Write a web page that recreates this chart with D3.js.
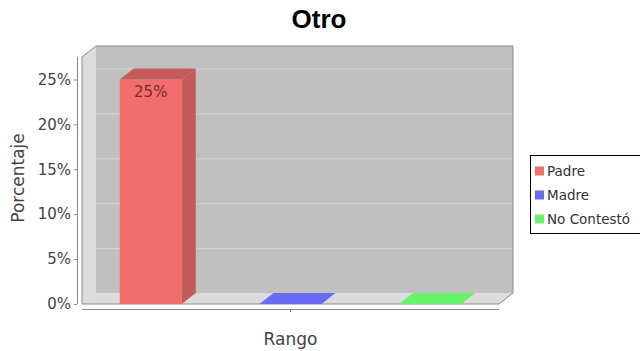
<!DOCTYPE html>
<html>
<head>
<meta charset="utf-8">
<script src="https://cdn.jsdelivr.net/npm/d3@7"></script>
<style>
  html, body { margin: 0; padding: 0; background: #fff; }
  svg { display: block; }
</style>
</head>
<body>
<svg id="chart" width="640" height="351"></svg>
<script>
// ---- data ----
const title = "Otro";
const category = "Rango";
const seriesNames = ["Padre", "Madre", "No Contestó"];
const seriesValues = [25, 0, 0];
const seriesColors = ["#f26e6e", "#6b6bf2", "#6bf26b"];
const seriesDark = ["#c65b5b", "#5656c4", "#56c456"];
const yTicks = [0, 5, 10, 15, 20, 25];
const yMax = 27.5;

// ---- layout ----
const svg = d3.select("#chart");
const W = 640, H = 351;
const fx0 = 82, fx1 = 499, fy0 = 304, fy1 = 57; // front plot frame
const dx = 14, dy = 11;                         // 3D depth

const y = d3.scaleLinear().domain([0, yMax]).range([fy0, fy1]);
const xb = d3.scaleBand().domain(seriesNames).range([fx0, fx1])
  .paddingInner(0.556).paddingOuter(0.27);

const pts = a => a.map(p => p.join(",")).join(" ");

// background walls
svg.append("polygon") // left wall
  .attr("points", pts([[fx0, fy1], [fx0 + dx, fy1 - dy], [fx0 + dx, fy0 - dy], [fx0, fy0]]))
  .attr("fill", "#dcdcdc");
svg.append("polygon") // floor
  .attr("points", pts([[fx0, fy0], [fx0 + dx, fy0 - dy], [fx1 + dx, fy0 - dy], [fx1, fy0]]))
  .attr("fill", "#dcdcdc");
svg.append("rect") // back wall
  .attr("x", fx0 + dx).attr("y", fy1 - dy)
  .attr("width", fx1 - fx0).attr("height", fy0 - fy1)
  .attr("fill", "#c0c0c0");

// grid lines on back wall
svg.append("g").selectAll("line").data(yTicks.filter(d => d > 0)).join("line")
  .attr("x1", fx0 + dx).attr("x2", fx1 + dx)
  .attr("y1", d => y(d) - dy + 0.5).attr("y2", d => y(d) - dy + 0.5)
  .attr("stroke", "#d4d4d4").attr("stroke-width", 1);

// outline
svg.append("polygon")
  .attr("points", pts([[fx0, fy1], [fx0 + dx, fy1 - dy], [fx1 + dx, fy1 - dy], [fx1 + dx, fy0 - dy], [fx1, fy0], [fx0, fy0]]))
  .attr("fill", "none").attr("stroke", "#8a8a8a").attr("stroke-width", 1);

// bars
const bars = svg.append("g");
seriesNames.forEach((s, i) => {
  const v = seriesValues[i];
  const x0 = xb(s), x1 = xb(s) + xb.bandwidth();
  const yt = y(v), yb = y(0);
  if (v > 0) {
    bars.append("rect").attr("x", x0).attr("y", yt).attr("width", x1 - x0).attr("height", yb - yt)
      .attr("fill", seriesColors[i]);
    bars.append("polygon")
      .attr("points", pts([[x1, yt], [x1 + dx, yt - dy], [x1 + dx, yb - dy], [x1, yb]]))
      .attr("fill", seriesDark[i]);
    bars.append("polygon")
      .attr("points", pts([[x0, yt], [x0 + dx, yt - dy], [x1 + dx, yt - dy], [x1, yt]]))
      .attr("fill", seriesDark[i]);
    bars.append("text")
      .attr("x", (x0 + x1) / 2).attr("y", yt + 18)
      .attr("text-anchor", "middle")
      .attr("font-family", "DejaVu Sans").attr("font-size", 15)
      .attr("fill", "#7a2a2a")
      .text(v + "%");
  } else {
    bars.append("polygon")
      .attr("points", pts([[x0, yt], [x0 + dx, yt - dy], [x1 + dx, yt - dy], [x1, yt]]))
      .attr("fill", seriesColors[i]);
  }
});

// y axis
const yAxisX = 77;
const yAxis = d3.axisLeft(y).tickValues(yTicks).tickFormat(d => d + "%").tickSize(3).tickPadding(3);
const gy = svg.append("g").attr("transform", `translate(${yAxisX},0)`).call(yAxis);
gy.select(".domain").attr("stroke", "#888").attr("d", `M0.5,${fy1}V${fy0}`);
gy.selectAll(".tick line").attr("stroke", "#888");
gy.selectAll(".tick text").attr("font-family", "DejaVu Sans").attr("font-size", 15).attr("fill", "#444");

// x axis
const xc = d3.scaleBand().domain([category]).range([fx0, fx1]);
const xAxis = d3.axisBottom(xc).tickSize(3).tickFormat("");
const gx = svg.append("g").attr("transform", `translate(0,309)`).call(xAxis);
gx.select(".domain").attr("stroke", "#888").attr("d", `M${fx0},0.5H${fx1}`);
gx.selectAll(".tick line").attr("stroke", "#888");

// axis labels
svg.append("text")
  .attr("x", xc(category) + xc.bandwidth() / 2).attr("y", 345)
  .attr("text-anchor", "middle")
  .attr("font-family", "DejaVu Sans").attr("font-size", 17).attr("fill", "#444")
  .text(category);
svg.append("text")
  .attr("transform", "translate(24,178) rotate(-90)")
  .attr("text-anchor", "middle")
  .attr("font-family", "DejaVu Sans").attr("font-size", 17).attr("fill", "#444")
  .text("Porcentaje");

// title
svg.append("text")
  .attr("x", 319).attr("y", 28)
  .attr("text-anchor", "middle")
  .attr("font-family", "Liberation Sans").attr("font-weight", "bold").attr("font-size", 26)
  .attr("fill", "#000")
  .text(title);

// legend
const lg = svg.append("g");
lg.append("rect").attr("x", 530.5).attr("y", 155.5).attr("width", 140).attr("height", 78)
  .attr("fill", "#fff").attr("stroke", "#000").attr("stroke-width", 1);
seriesNames.forEach((s, i) => {
  const cy = 171 + i * 24;
  lg.append("rect").attr("x", 535).attr("y", cy - 4.5).attr("width", 9).attr("height", 9)
    .attr("fill", seriesColors[i]);
  lg.append("text").attr("x", 547).attr("y", cy + 5)
    .attr("font-family", "DejaVu Sans").attr("font-size", 13.5).attr("fill", "#333")
    .text(s);
});
</script>
</body>
</html>
